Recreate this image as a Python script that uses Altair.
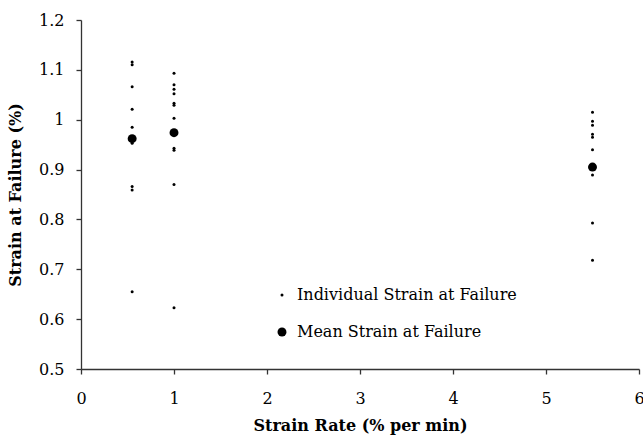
import altair as alt
import pandas as pd

# Individual strain at failure readings
rate_a = 0.55
strain_a = [1.116, 1.110, 1.066, 1.021, 0.985, 0.953, 0.866, 0.859, 0.655]
rate_b = 1.0
strain_b = [1.093, 1.070, 1.061, 1.052, 1.033, 1.029, 1.003, 0.943, 0.939, 0.870, 0.623]
rate_c = 5.5
strain_c = [1.015, 0.997, 0.989, 0.971, 0.965, 0.940, 0.889, 0.793, 0.718]

# Mean strain at failure
mean_rates = [0.55, 1.0, 5.5]
mean_strains = [0.962, 0.974, 0.905]

IND = "Individual Strain at Failure"
MEAN = "Mean Strain at Failure"

rows = []
for r, vals in [(rate_a, strain_a), (rate_b, strain_b), (rate_c, strain_c)]:
    for v in vals:
        rows.append({"rate": r, "strain": v, "series": IND})
for r, v in zip(mean_rates, mean_strains):
    rows.append({"rate": r, "strain": v, "series": MEAN})
df = pd.DataFrame(rows)

FONT = "DejaVu Serif"
AXC = "#333333"

chart = alt.Chart(df).mark_circle(opacity=1, color="black").encode(
    x=alt.X("rate:Q", title="Strain Rate (% per min)",
            scale=alt.Scale(domain=[0, 6], nice=False),
            axis=alt.Axis(values=[0, 1, 2, 3, 4, 5, 6], format="d",
                          labelFlush=False, labelBound=False,
                          labelPadding=16, titlePadding=11)),
    y=alt.Y("strain:Q", title="Strain at Failure (%)",
            scale=alt.Scale(domain=[0.5, 1.2], nice=False, zero=False),
            axis=alt.Axis(values=[0.5, 0.6, 0.7, 0.8, 0.9, 1.0, 1.1, 1.2],
                          format="~g", labelPadding=12, titlePadding=15)),
    size=alt.Size("series:N",
                  scale=alt.Scale(domain=[IND, MEAN], range=[9, 80]),
                  legend=alt.Legend(title=None, orient="none",
                                    legendX=193, legendY=267,
                                    labelFont=FONT, labelFontSize=16,
                                    labelColor="black", labelLimit=0,
                                    symbolFillColor="black",
                                    symbolStrokeWidth=0,
                                    symbolType="circle",
                                    rowPadding=21, labelOffset=7,
                                    padding=0)),
).properties(
    width=558, height=349,
    autosize=alt.AutoSizeParams(type="none"),
    padding={"left": 81, "top": 20, "right": 4, "bottom": 66},
).configure_view(
    stroke=None
).configure_axis(
    grid=False,
    domainColor=AXC, domainWidth=1.3,
    tickColor=AXC, tickWidth=1.3, tickSize=5,
    labelFont=FONT, labelFontSize=16, labelColor="black",
    titleFont=FONT, titleFontSize=16, titleFontWeight="bold",
    titleColor="black",
)

chart.save("out.html", embed_options={"renderer": "svg", "actions": False})
